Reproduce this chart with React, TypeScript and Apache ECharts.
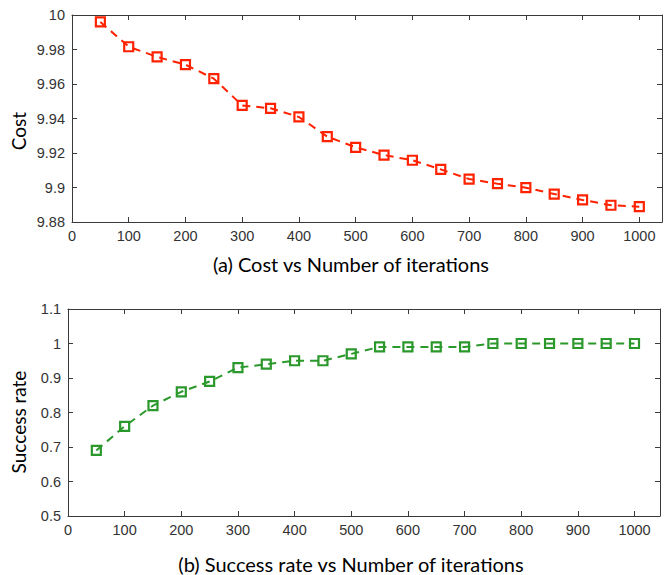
import React, { useEffect, useRef } from "react";
import * as echarts from "echarts";

const iterations = [50, 100, 150, 200, 250, 300, 350, 400, 450, 500, 550, 600, 650, 700, 750, 800, 850, 900, 950, 1000];
const costValues = [9.996, 9.9816, 9.9757, 9.9712, 9.9631, 9.9476, 9.9459, 9.9409, 9.9295, 9.9233, 9.9188, 9.9158, 9.9105, 9.9049, 9.9022, 9.8999, 9.8962, 9.8928, 9.8897, 9.8889];
const successValues = [0.69, 0.76, 0.82, 0.86, 0.89, 0.93, 0.94, 0.95, 0.95, 0.97, 0.99, 0.99, 0.99, 0.99, 1, 1, 1, 1, 1, 1];

const titleA = "(a) Cost vs Number of iterations";
const titleB = "(b) Success rate vs Number of iterations";
const yNameA = "Cost";
const yNameB = "Success rate";

const AXIS_COLOR = "#3a3a3a";
const LABEL_COLOR = "#333";
const TICK_FONT = "'Liberation Sans', Arial, sans-serif";
const TITLE_FONT = "Lato, 'Noto Sans', sans-serif";

function makeX(gridIndex: number, max: number, top: boolean) {
  return {
    type: "value",
    gridIndex,
    min: 0,
    max,
    interval: 100,
    position: top ? "top" : "bottom",
    axisLine: { show: true, onZero: false, lineStyle: { color: AXIS_COLOR, width: 1 } },
    axisTick: { show: true, inside: true, length: 5, lineStyle: { color: AXIS_COLOR } },
    axisLabel: {
      show: !top,
      showMaxLabel: false,
      color: LABEL_COLOR,
      fontSize: 14.5,
      fontFamily: TICK_FONT,
      margin: 6,
      formatter: (v: number) => String(v),
    },
    splitLine: { show: false },
  };
}

function makeY(gridIndex: number, min: number, max: number, interval: number, right: boolean) {
  return {
    type: "value",
    gridIndex,
    min,
    max,
    interval,
    position: right ? "right" : "left",
    axisLine: { show: true, onZero: false, lineStyle: { color: AXIS_COLOR, width: 1 } },
    axisTick: { show: true, inside: true, length: 5, lineStyle: { color: AXIS_COLOR } },
    axisLabel: {
      show: !right,
      color: LABEL_COLOR,
      fontSize: 14.5,
      fontFamily: TICK_FONT,
      margin: 7,
    },
    splitLine: { show: false },
  };
}

function makeSeries(values: number[], color: string, xi: number, yi: number) {
  return {
    type: "line",
    xAxisIndex: xi,
    yAxisIndex: yi,
    data: iterations.map((x, i) => [x, values[i]]),
    symbol: "rect",
    symbolSize: 9,
    showAllSymbol: true,
    lineStyle: { color, width: 2, type: [8, 6] },
    itemStyle: { color: "rgba(255,255,255,0)", borderColor: color, borderWidth: 2.2 },
    z: 3,
  };
}

export default function App() {
  const ref = useRef<HTMLDivElement>(null);
  useEffect(() => {
    if (!ref.current) return;
    const chart = echarts.init(ref.current, null, { renderer: "svg" });
    chart.setOption({
      animation: false,
      backgroundColor: "#fff",
      grid: [
        { left: 72, top: 15, right: 2, bottom: 353 },
        { left: 68, top: 309, right: 4, bottom: 59 },
      ],
      xAxis: [makeX(0, 1040, false), makeX(0, 1040, true), makeX(1, 1045, false), makeX(1, 1045, true)],
      yAxis: [
        makeY(0, 9.88, 10, 0.02, false),
        makeY(0, 9.88, 10, 0.02, true),
        makeY(1, 0.5, 1.1, 0.1, false),
        makeY(1, 0.5, 1.1, 0.1, true),
      ],
      series: [makeSeries(costValues, "#ff2200", 0, 0), makeSeries(successValues, "#2b982b", 2, 2)],
      graphic: [
        {
          type: "text",
          x: 351,
          y: 264,
          style: { text: titleA, font: `20px ${TITLE_FONT}`, fill: "#000", align: "center", verticalAlign: "middle" },
        },
        {
          type: "text",
          x: 351,
          y: 564,
          style: { text: titleB, font: `20px ${TITLE_FONT}`, fill: "#000", align: "center", verticalAlign: "middle" },
        },
        {
          type: "text",
          x: 18,
          y: 131,
          rotation: Math.PI / 2,
          style: { text: yNameA, font: `19px ${TITLE_FONT}`, fill: "#000", align: "center", verticalAlign: "middle" },
        },
        {
          type: "text",
          x: 18,
          y: 422,
          rotation: Math.PI / 2,
          style: { text: yNameB, font: `19px ${TITLE_FONT}`, fill: "#000", align: "center", verticalAlign: "middle" },
        },
      ],
    });
    return () => chart.dispose();
  }, []);
  return <div ref={ref} style={{ width: 664, height: 575, position: "absolute", left: 0, top: 0 }} />;
}
